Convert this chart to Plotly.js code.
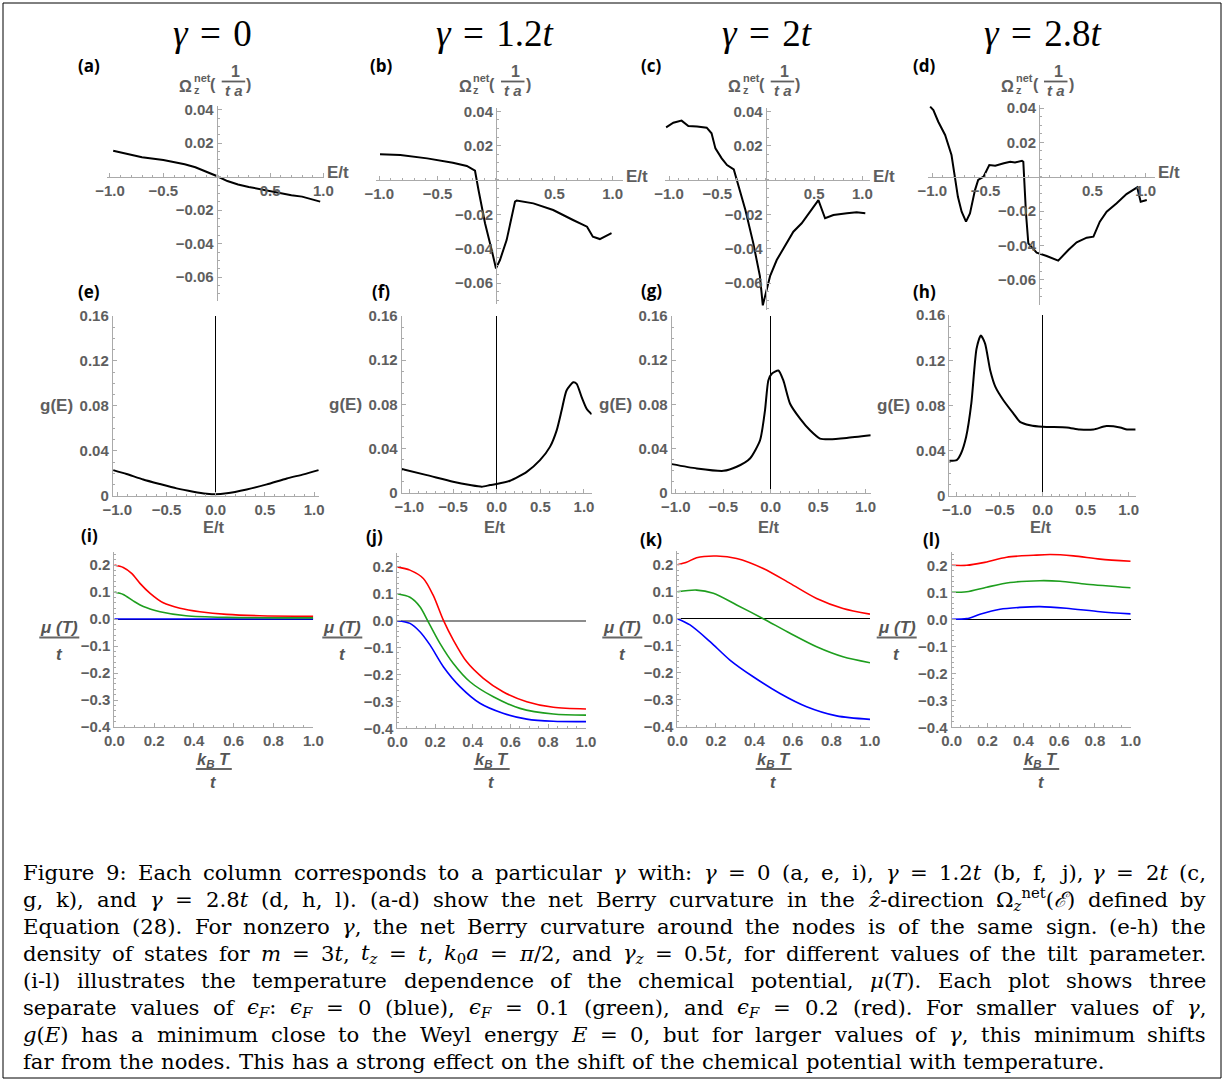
<!DOCTYPE html>
<html><head><meta charset="utf-8">
<script src="https://cdn.plot.ly/plotly-3.0.1.min.js"></script>
<style>body{margin:0;background:#fff}</style>
</head><body><div id="chart" style="width:1225px;height:1083px"></div>
<script>
// ---------- DATA ----------
// Row 1: net Berry curvature Omega_z^net vs E/t
const E_a = [-0.97,-0.7,-0.5,-0.3,-0.2,-0.1,0,0.1,0.2,0.3,0.5,0.7,0.8,0.97];
const omega_a = [0.0155,0.0116,0.0100,0.0074,0.0056,0.0032,0.0004,-0.0026,-0.0046,-0.0061,-0.0087,-0.0111,-0.0119,-0.0149];
const E_b = [-0.994,-0.82,-0.59,-0.37,-0.25,-0.18,-0.15,-0.094,-0.037,0,0.034,0.091,0.163,0.177,0.32,0.49,0.66,0.78,0.83,0.89,0.99];
const omega_b = [0.0150,0.0146,0.0126,0.0101,0.0082,0.0054,-0.0058,-0.0252,-0.0408,-0.0515,-0.0466,-0.035,-0.0126,-0.0120,-0.0136,-0.0175,-0.0233,-0.0272,-0.033,-0.0344,-0.031];
const E_c = [-1.03,-0.955,-0.87,-0.80,-0.71,-0.61,-0.56,-0.52,-0.455,-0.40,-0.33,-0.30,-0.21,-0.128,-0.06,-0.03,0.0,0.02,0.045,0.114,0.217,0.286,0.372,0.46,0.545,0.614,0.70,0.84,0.94,1.03];
const omega_c = [0.0307,0.0334,0.0346,0.0315,0.0311,0.0305,0.0272,0.0184,0.0126,0.0087,0.0062,0,-0.0175,-0.0369,-0.056,-0.073,-0.066,-0.060,-0.056,-0.0466,-0.0369,-0.0301,-0.0252,-0.0184,-0.0117,-0.0223,-0.0204,-0.0194,-0.0188,-0.0194];
const E_d = [-1.02,-0.99,-0.944,-0.88,-0.82,-0.79,-0.76,-0.725,-0.684,-0.647,-0.60,-0.57,-0.52,-0.466,-0.41,-0.33,-0.27,-0.225,-0.16,-0.147,-0.122,-0.10,-0.022,0.072,0.18,0.275,0.353,0.447,0.51,0.57,0.634,0.728,0.82,0.92,0.953,1.01];
const omega_d = [0.0408,0.0388,0.032,0.0243,0.0126,0,-0.0117,-0.0204,-0.0262,-0.0214,-0.0078,-0.0019,0,0.0068,0.0064,0.0078,0.0087,0.0083,0.0093,0.0087,-0.0213,-0.0388,-0.0442,-0.0462,-0.0489,-0.0427,-0.0382,-0.0355,-0.0349,-0.0262,-0.0204,-0.0155,-0.0101,-0.0062,-0.0146,-0.0136];

// Row 2: density of states g(E) vs E/t
const E_e = [-1.04,-0.905,-0.736,-0.566,-0.397,-0.227,-0.092,0,0.112,0.315,0.519,0.722,0.892,1.044];
const g_e = [0.0228,0.0193,0.0145,0.0104,0.0065,0.0036,0.0018,0.0012,0.0021,0.0056,0.0101,0.0154,0.0190,0.0228];
const E_f = [-1.088,-0.80,-0.50,-0.305,-0.17,-0.076,0,0.153,0.344,0.496,0.61,0.687,0.744,0.80,0.878,0.916,0.973,1.03,1.088];
const g_f = [0.0214,0.0159,0.0099,0.0069,0.0054,0.0069,0.0078,0.0108,0.0189,0.0295,0.0415,0.0565,0.0746,0.0926,0.100,0.0986,0.0866,0.0761,0.071];
const E_g = [-1.042,-0.779,-0.498,-0.358,-0.218,-0.112,-0.06,-0.025,0.011,0.081,0.133,0.204,0.309,0.414,0.519,0.625,0.80,1.053];
const g_g = [0.0259,0.022,0.0198,0.0235,0.031,0.0475,0.0746,0.1017,0.1077,0.1107,0.1017,0.0806,0.0671,0.0565,0.049,0.0484,0.0496,0.052];
const E_h = [-1.086,-1.0,-0.95,-0.89,-0.83,-0.77,-0.72,-0.67,-0.61,-0.55,-0.457,-0.34,-0.264,-0.147,0,0.28,0.43,0.59,0.74,0.90,0.98,1.081];
const g_h = [0.0312,0.0318,0.0376,0.0524,0.0818,0.130,0.142,0.1347,0.111,0.0965,0.0847,0.0729,0.0656,0.0626,0.0612,0.0606,0.0588,0.0588,0.0618,0.0606,0.0588,0.0588];

// Row 3: chemical potential mu(T)/t vs k_B T / t for eps_F = 0 (blue), 0.1 (green), 0.2 (red)
const T_i_red = [0,0.045,0.087,0.129,0.18,0.246,0.33,0.43,0.565,0.73,1.0];
const mu_i_red = [0.2,0.191,0.169,0.132,0.095,0.060,0.040,0.027,0.017,0.012,0.010];
const T_i_green = [0,0.045,0.095,0.146,0.23,0.36,0.565,1.0];
const mu_i_green = [0.1,0.091,0.067,0.046,0.027,0.012,0.006,0.004];
const T_i_blue = [0,0.5,1.0];
const mu_i_blue = [0,0,0];

const T_j_red = [0,0.067,0.138,0.19,0.244,0.297,0.367,0.456,0.56,0.686,0.827,1.0];
const mu_j_red = [0.2,0.188,0.157,0.095,0.002,-0.072,-0.152,-0.214,-0.264,-0.301,-0.322,-0.328];
const T_j_green = [0,0.067,0.12,0.164,0.226,0.297,0.385,0.509,0.65,0.827,1.0];
const mu_j_green = [0.1,0.087,0.052,-0.004,-0.084,-0.159,-0.227,-0.283,-0.326,-0.347,-0.351];
const T_j_blue = [0,0.067,0.12,0.173,0.244,0.332,0.438,0.56,0.686,0.827,1.0];
const mu_j_blue = [0,-0.010,-0.041,-0.090,-0.171,-0.245,-0.307,-0.344,-0.366,-0.374,-0.375];

const T_k_red = [0,0.048,0.10,0.204,0.308,0.446,0.585,0.723,0.86,1.0];
const mu_k_red = [0.2,0.209,0.226,0.232,0.223,0.186,0.131,0.075,0.038,0.017];
const T_k_green = [0,0.10,0.187,0.308,0.446,0.585,0.723,0.86,1.0];
const mu_k_green = [0.1,0.106,0.094,0.051,0,-0.054,-0.104,-0.141,-0.163];
const T_k_blue = [0,0.066,0.17,0.273,0.394,0.533,0.671,0.827,1.0];
const mu_k_blue = [0,-0.023,-0.085,-0.153,-0.215,-0.277,-0.326,-0.360,-0.373];

const T_l_red = [0,0.084,0.177,0.307,0.456,0.55,0.68,0.829,1.0];
const mu_l_red = [0.2,0.2,0.21,0.23,0.237,0.24,0.235,0.223,0.215];
const T_l_green = [0,0.084,0.196,0.326,0.493,0.605,0.754,1.0];
const mu_l_green = [0.1,0.102,0.119,0.136,0.143,0.141,0.130,0.117];
const T_l_blue = [0,0.084,0.158,0.27,0.38,0.493,0.64,0.829,1.0];
const mu_l_blue = [0,0.0025,0.0185,0.037,0.044,0.047,0.041,0.028,0.020];

// Tick labels
const berryXTicks = [-1,-0.5,0.5,1];
const berryXText = ['\u22121.0','\u22120.5','0.5','1.0'];
const berryYTicks = [-0.06,-0.04,-0.02,0.02,0.04];
const berryYText = ['\u22120.06','\u22120.04','\u22120.02','0.02','0.04'];
const dosXTicks = [-1,-0.5,0,0.5,1];
const dosXText = ['\u22121.0','\u22120.5','0.0','0.5','1.0'];
const dosYTicks = [0,0.04,0.08,0.12,0.16];
const dosYText = ['0','0.04','0.08','0.12','0.16'];
const muXTicks = [0,0.2,0.4,0.6,0.8,1.0];
const muXText = ['0.0','0.2','0.4','0.6','0.8','1.0'];
const muYTicks = [-0.4,-0.3,-0.2,-0.1,0,0.1,0.2];
const muYText = ['\u22120.4','\u22120.3','\u22120.2','\u22120.1','0.0','0.1','0.2'];

const columnTitles = ['<i>\u03b3</i>\u2004=\u20040','<i>\u03b3</i>\u2004=\u20041.2<i>t</i>','<i>\u03b3</i>\u2004=\u20042<i>t</i>','<i>\u03b3</i>\u2004=\u20042.8<i>t</i>'];
const panelLetters = ['(a)','(b)','(c)','(d)','(e)','(f)','(g)','(h)','(i)','(j)','(k)','(l)'];
const captionLines = [
 'Figure 9: Each column corresponds to a particular <i>\u03b3</i> with: <i>\u03b3</i> = 0 (a, e, i), <i>\u03b3</i> = 1.2<i>t</i> (b, f, j), <i>\u03b3</i> = 2<i>t</i> (c,',
 'g, k), and <i>\u03b3</i> = 2.8<i>t</i> (d, h, l). (a-d) show the net Berry curvature in the <i>\u1e91</i>-direction \u03a9<sub><i>z</i></sub><sup>net</sup>(<i>\u2130</i>) defined by',
 'Equation (28). For nonzero <i>\u03b3</i>, the net Berry curvature around the nodes is of the same sign. (e-h) the',
 'density of states for <i>m</i> = 3<i>t</i>, <i>t<sub>z</sub></i> = <i>t</i>, <i>k</i><sub>0</sub><i>a</i> = <i>\u03c0</i>/2, and <i>\u03b3<sub>z</sub></i> = 0.5<i>t</i>, for different values of the tilt parameter.',
 '(i-l) illustrates the temperature dependence of the chemical potential, <i>\u03bc</i>(<i>T</i>). Each plot shows three',
 'separate values of <i>\u03f5<sub>F</sub></i>: <i>\u03f5<sub>F</sub></i> = 0 (blue), <i>\u03f5<sub>F</sub></i> = 0.1 (green), and <i>\u03f5<sub>F</sub></i> = 0.2 (red). For smaller values of <i>\u03b3</i>,',
 '<i>g</i>(<i>E</i>) has a minimum close to the Weyl energy <i>E</i> = 0, but for larger values of <i>\u03b3</i>, this minimum shifts',
 'far from the nodes. This has a strong effect on the shift of the chemical potential with temperature.'
];

// ---------- LAYOUT ----------
const W = 1225, H = 1083;
const PX = x => x / W, PY = y => 1 - y / H;
const AX = '#aaaaaa';
const SANS = 'Liberation Sans, Arial, sans-serif';
const tickFont = {family:SANS, size:15, color:'#5e5e5e', weight:700};
const lblFont = (s, c) => ({family:SANS, size:s, color:c||'#555555', weight:700});
const B = arr => arr.map(t => '<b>' + t + '</b>');

const layout = {width:W, height:H, margin:{l:0,r:0,t:0,b:0}, paper_bgcolor:'#fff', plot_bgcolor:'rgba(0,0,0,0)',
  showlegend:false, annotations:[], shapes:[]};
const data = [];

// panel geometry: x0/y0 = pixel of data zero, xu/yu = pixels per data unit
const panels = [
 {kind:'berry', x0:216.7, xu:106.7, xr:[-1.03,1.01], y0:176.7, yu:1675, yr:[-0.074,0.042]},
 {kind:'berry', x0:496,   xu:116.7, xr:[-1.03,1.09], y0:180,   yu:1717, yr:[-0.072,0.042]},
 {kind:'berry', x0:765.7, xu:96.7,  xr:[-1.04,1.08], y0:180,   yu:1717, yr:[-0.076,0.042]},
 {kind:'berry', x0:1039,  xu:106.7, xr:[-1.04,1.09], y0:176.7, yu:1717, yr:[-0.075,0.042]},
 {kind:'dos', x0:215.7,  xu:98.5, xr:[-1.045,1.05],  y0:495.7, yu:1123, yr:[0,0.16]},
 {kind:'dos', x0:496.7,  xu:87.3, xr:[-1.088,1.088], y0:492.7, yu:1104, yr:[0,0.16]},
 {kind:'dos', x0:770.7,  xu:95,   xr:[-1.042,1.053], y0:492.7, yu:1104, yr:[0,0.16]},
 {kind:'dos', x0:1042.7, xu:86,   xr:[-1.086,1.081], y0:496,   yu:1131, yr:[0,0.16]},
 {kind:'mu', x0:114.3, xu:199,   xr:[0,1], y0:619,   yu:270, yr:[-0.4,0.25], zc:'#000000', zw:1},
 {kind:'mu', x0:397.3, xu:188.7, xr:[0,1], y0:620.7, yu:269, yr:[-0.4,0.25], zc:'#8c8c8c', zw:2},
 {kind:'mu', x0:677.3, xu:192.7, xr:[0,1], y0:618.7, yu:270, yr:[-0.4,0.252], zc:'#000000', zw:1},
 {kind:'mu', x0:951.7, xu:179,   xr:[0,1], y0:619.3, yu:270, yr:[-0.4,0.25], zc:'#000000', zw:1}
];

const berrySeries = [[E_a,omega_a],[E_b,omega_b],[E_c,omega_c],[E_d,omega_d]];
const dosSeries = [[E_e,g_e],[E_f,g_f],[E_g,g_g],[E_h,g_h]];
const muSeries = [
 [[T_i_blue,mu_i_blue],[T_i_green,mu_i_green],[T_i_red,mu_i_red]],
 [[T_j_blue,mu_j_blue],[T_j_green,mu_j_green],[T_j_red,mu_j_red]],
 [[T_k_blue,mu_k_blue],[T_k_green,mu_k_green],[T_k_red,mu_k_red]],
 [[T_l_blue,mu_l_blue],[T_l_green,mu_l_green],[T_l_red,mu_l_red]]
];
const muColors = ['#0000ff','#1e9e1e','#ff0000'];

function ann(x, y, text, font, xa, ya, extra) {
  layout.annotations.push(Object.assign({xref:'paper', yref:'paper', x:PX(x), y:PY(y), text:text, showarrow:false,
    font:font, xanchor:xa||'center', yanchor:ya||'middle', borderpad:0}, extra||{}));
}
function hline(x1, x2, y, color, w) {
  layout.shapes.push({type:'line', xref:'paper', yref:'paper', x0:PX(x1), x1:PX(x2), y0:PY(y), y1:PY(y), line:{color:color, width:w||1.3}});
}

panels.forEach((p, i) => {
  const n = i + 1, xs = n === 1 ? '' : String(n);
  const xk = 'xaxis' + xs, yk = 'yaxis' + xs;
  const xd = [PX(p.x0 + p.xr[0] * p.xu), PX(p.x0 + p.xr[1] * p.xu)];
  const yd = [PY(p.y0 - p.yr[0] * p.yu), PY(p.y0 - p.yr[1] * p.yu)];
  const common = {showgrid:false, showline:true, linecolor:AX, linewidth:1, ticks:'inside', ticklen:4, tickwidth:1,
    tickcolor:AX, tickfont:tickFont, fixedrange:true, tickmode:'array'};
  let xa, ya;
  if (p.kind === 'berry') {
    xa = Object.assign({}, common, {domain:xd, range:p.xr, anchor:'free', position:PY(p.y0), zeroline:false,
      tickvals:berryXTicks, ticktext:B(berryXText),
      minor:{tickmode:'linear', tick0:0, dtick:0.1, ticks:'inside', ticklen:2, tickcolor:AX}});
    ya = Object.assign({}, common, {domain:yd, range:p.yr, anchor:'free', position:PX(p.x0), zeroline:false,
      tickvals:berryYTicks, ticktext:B(berryYText),
      minor:{tickmode:'linear', tick0:0, dtick:0.005, ticks:'inside', ticklen:2, tickcolor:AX}});
    const s = berrySeries[i];
    data.push({type:'scatter', mode:'lines', x:s[0], y:s[1], xaxis:'x'+xs, yaxis:'y'+xs,
      line:{color:'#000', width:2}, hoverinfo:'skip'});
  } else if (p.kind === 'dos') {
    xa = Object.assign({}, common, {domain:xd, range:p.xr, anchor:'y'+xs, zeroline:true, zerolinecolor:'#000', zerolinewidth:1,
      tickvals:dosXTicks, ticktext:B(dosXText),
      minor:{tickmode:'linear', tick0:0, dtick:0.1, ticks:'inside', ticklen:2, tickcolor:AX}});
    ya = Object.assign({}, common, {domain:yd, range:p.yr, anchor:'x'+xs, zeroline:false,
      tickvals:dosYTicks, ticktext:B(dosYText),
      minor:{tickmode:'linear', tick0:0, dtick:0.01, ticks:'inside', ticklen:2, tickcolor:AX}});
    const s = dosSeries[i - 4];
    data.push({type:'scatter', mode:'lines', x:s[0], y:s[1], xaxis:'x'+xs, yaxis:'y'+xs,
      line:{color:'#000', width:2, shape:'spline', smoothing:0.6}, hoverinfo:'skip'});
  } else {
    xa = Object.assign({}, common, {domain:xd, range:p.xr, anchor:'y'+xs, zeroline:false,
      tickvals:muXTicks, ticktext:B(muXText),
      minor:{tickmode:'linear', tick0:0, dtick:0.05, ticks:'inside', ticklen:2, tickcolor:AX}});
    ya = Object.assign({}, common, {domain:yd, range:p.yr, anchor:'x'+xs, zeroline:true, zerolinecolor:p.zc, zerolinewidth:p.zw,
      tickvals:muYTicks, ticktext:B(muYText),
      minor:{tickmode:'linear', tick0:0, dtick:0.02, ticks:'inside', ticklen:2, tickcolor:AX}});
    muSeries[i - 8].forEach((s, k) => {
      data.push({type:'scatter', mode:'lines', x:s[0], y:s[1], xaxis:'x'+xs, yaxis:'y'+xs,
        line:{color:muColors[k], width:1.6, shape:'spline', smoothing:0.8}, hoverinfo:'skip'});
    });
  }
  layout[xk] = xa; layout[yk] = ya;

  // axis labels
  const G = '#5e5e5e';
  if (p.kind === 'berry') {
    const xEnd = p.x0 + p.xr[1] * p.xu;
    ann(xEnd + 2, p.y0 - 4, '<b>E/t</b>', lblFont(17, G), 'left', 'middle');
    const ax = p.x0;
    ann(ax - 23.5, 86, '<b>\u03a9</b>', lblFont(16, G), 'right', 'middle');
    ann(ax - 24, 78.5, '<b>net</b>', lblFont(11, G), 'left', 'middle');
    ann(ax - 24, 90, '<b>z</b>', lblFont(11, G), 'left', 'middle');
    ann(ax + 0.5, 84, '<b>(</b>', lblFont(16, G), 'right', 'middle');
    ann(ax + 19, 71, '<b>1</b>', lblFont(16, G), 'center', 'middle');
    hline(ax + 5, ax + 28.5, 81.5, G, 1.8);
    ann(ax + 17, 90.5, '<b><i>t a</i></b>', lblFont(15, G), 'center', 'middle');
    ann(ax + 28.5, 84, '<b>)</b>', lblFont(16, G), 'left', 'middle');
  } else if (p.kind === 'dos') {
    const left = p.x0 + p.xr[0] * p.xu;
    ann(left - 56, p.y0 - 0.08 * p.yu, '<b>g(E)</b>', lblFont(17, G), 'center', 'middle');
    ann(p.x0 - 2, 527, '<b>E/t</b>', lblFont(16.5, G), 'center', 'middle');
  } else {
    const left = p.x0;
    const mid = p.x0 + 0.5 * p.xu;
    ann(left - 55, 627, '<b><i>\u03bc (T)</i></b>', lblFont(17, '#555'), 'center', 'middle');
    hline(left - 75, left - 35, 637.5, '#666', 1.8);
    ann(left - 55, 654, '<b><i>t</i></b>', lblFont(17, '#555'), 'center', 'middle');
    ann(mid, 760, '<b><i>k<sub>B</sub> T</i></b>', lblFont(16.5, '#555'), 'center', 'middle');
    hline(mid - 18, mid + 18, 769, '#666', 1.8);
    ann(mid, 782, '<b><i>t</i></b>', lblFont(16.5, '#555'), 'center', 'middle');
  }
});

// panel letters
const letterPos = [[89,66],[381,66],[651,66],[925,66],[89,291],[381,291],[651,290],[925,291],[89,536],[374,537],[651,539],[931,539]];
panelLetters.forEach((t, i) => ann(letterPos[i][0], letterPos[i][1], '<b>' + t + '</b>',
  {family:'Open Sans, Liberation Sans, sans-serif', size:17, color:'#000', weight:700}, 'center', 'middle'));

// column titles
const titleX = [212, 495, 767, 1043];
columnTitles.forEach((t, i) => ann(titleX[i], 33, t, {family:'Liberation Serif, serif', size:37, color:'#000'}, 'center', 'middle'));

// caption: justified by placing words along each line (widths measured with a canvas)
const CAP_FAM = 'DejaVu Serif', CAP_SIZE = 21.2, CAP_LEFT = 22, CAP_RIGHT = 1205, CAP_TOP = 872, CAP_STEP = 27;
const ctx = document.createElement('canvas').getContext('2d');
function measure(html) {
  let w = 0, ital = 0, small = 0, m;
  const re = /<(\/?)(i|sub|sup|b)>|([^<]+)/g;
  while ((m = re.exec(html))) {
    if (m[3] !== undefined) {
      ctx.font = (ital ? 'italic ' : '') + (small ? CAP_SIZE * 0.7 : CAP_SIZE) + 'px "' + CAP_FAM + '"';
      w += ctx.measureText(m[3]).width;
    } else {
      const d = m[1] === '/' ? -1 : 1;
      if (m[2] === 'i') ital += d; else if (m[2] !== 'b') small += d;
    }
  }
  return w;
}
captionLines.forEach((line, li) => {
  const words = line.split(' ');
  const widths = words.map(measure);
  const total = widths.reduce((a, b) => a + b, 0);
  const last = li === captionLines.length - 1;
  const gap = last ? measure(' ') * 1.1 : (CAP_RIGHT - CAP_LEFT - total) / (words.length - 1);
  let x = CAP_LEFT;
  words.forEach((w, k) => {
    ann(x, CAP_TOP + li * CAP_STEP, w, {family:CAP_FAM + ', serif', size:CAP_SIZE, color:'#000'}, 'left', 'middle');
    x += widths[k] + gap;
  });
});

// outer frame
layout.shapes.push({type:'rect', xref:'paper', yref:'paper', x0:PX(3), x1:PX(1221), y0:PY(1078), y1:PY(3), line:{color:'#000', width:1}});

Plotly.newPlot('chart', data, layout, {staticPlot:true, displayModeBar:false});
</script>
</body></html>
